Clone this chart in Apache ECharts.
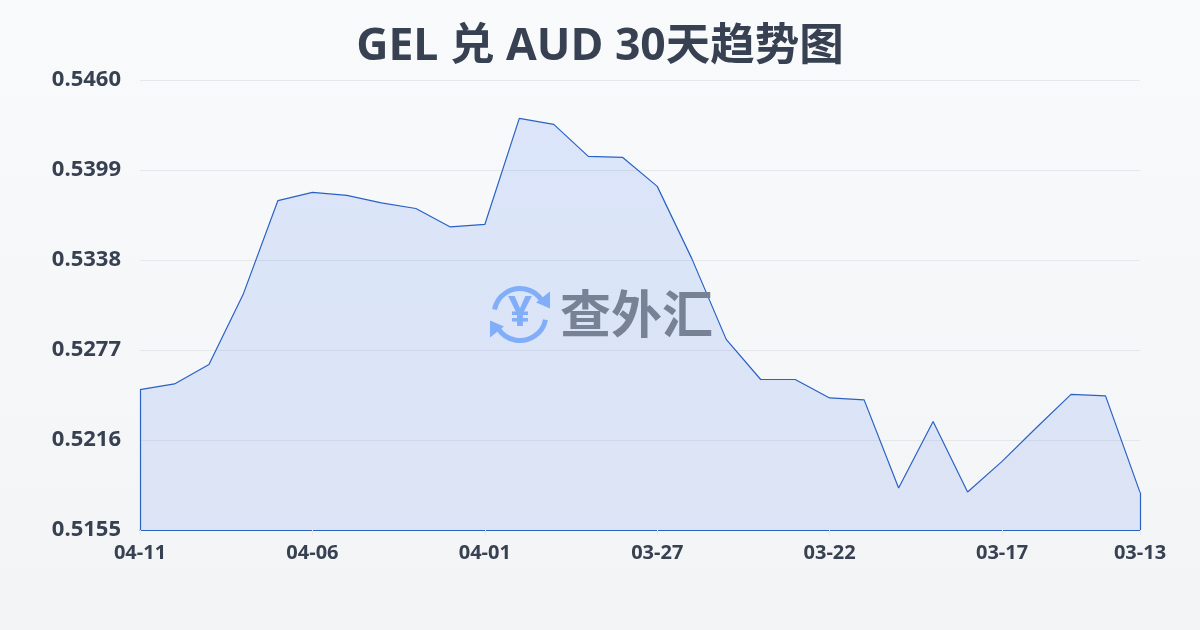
<!DOCTYPE html>
<html><head><meta charset="utf-8">
<style>html,body{margin:0;padding:0;width:1200px;height:630px;overflow:hidden}#c{width:1200px;height:630px}</style>
<script src="https://cdn.jsdelivr.net/npm/echarts@6/dist/echarts.min.js"></script>
</head><body><div id="c"></div>
<script>
const titleText = 'GEL 兑 AUD 30天趋势图';
const dates = ['04-11','04-10','04-09','04-08','04-07','04-06','04-05','04-04','04-03','04-02','04-01','03-31','03-30','03-29','03-28','03-27','03-26','03-25','03-24','03-23','03-22','03-21','03-20','03-19','03-18','03-17','03-16','03-15','03-14','03-13'];
const rates = [0.52502,0.52540,0.52672,0.53152,0.53783,0.53838,0.53818,0.53767,0.53729,0.53604,0.53621,0.54340,0.54299,0.54082,0.54075,0.53879,0.53391,0.52842,0.52570,0.52570,0.52445,0.52432,0.51835,0.52286,0.51808,0.52015,0.52245,0.52469,0.52459,0.51805];
const yMin = 0.5155, yMax = 0.5460;
const font = '"Open Sans","Noto Sans CJK SC",sans-serif';
const blue = '#2a62c4';
const iconBlue = '#8fb8fb';
const last = dates.length - 1;
const chart = echarts.init(document.getElementById('c'), null, {renderer:'canvas'});
chart.setOption({
  animation:false,
  backgroundColor:new echarts.graphic.LinearGradient(0,0,0,1,[{offset:0,color:'#f8fafc'},{offset:1,color:'#f3f4f6'}]),
  title:{text:titleText,left:'center',top:20,textStyle:{fontFamily:font,fontSize:44.5,fontWeight:'bold',color:'#374151'}},
  grid:{left:140,right:60,top:80,bottom:100},
  xAxis:{type:'category',boundaryGap:false,data:dates,
    axisLine:{show:true,lineStyle:{color:blue,width:1}},
    axisTick:{show:true,length:5,alignWithLabel:true,lineStyle:{color:'#e5e7eb'},interval:i=>i%5===0||i===last},
    axisLabel:{interval:i=>i%5===0||i===last,showMaxLabel:true,margin:13,fontFamily:font,fontSize:20,fontWeight:'bold',color:'#374151'},
    splitLine:{show:false}},
  yAxis:{type:'value',min:yMin,max:yMax,interval:(yMax-yMin)/5,
    axisLine:{show:false},axisTick:{show:false},
    axisLabel:{margin:19,fontFamily:font,fontSize:22,fontWeight:'bold',color:'#374151',formatter:v=>v.toFixed(4)},
    splitLine:{lineStyle:{color:'#e5e7eb',width:1}}},
  series:[{type:'line',data:rates,symbol:'none',smooth:false,z:3,
    lineStyle:{color:blue,width:1.2},
    areaStyle:{color:new echarts.graphic.LinearGradient(0,0,0,1,[{offset:0,color:'rgba(37,99,235,0.19)'},{offset:1,color:'rgba(37,99,235,0.17)'}])},
    markLine:{silent:true,symbol:'none',label:{show:false},lineStyle:{color:blue,width:1.2,type:'solid'},animation:false,
      data:[
        [{coord:[dates[0],yMin]},{coord:[dates[0],rates[0]]}],
        [{coord:[dates[last],yMin]},{coord:[dates[last],rates[last]]}]
      ]}
  }],
  graphic:[
    {type:'group',left:490,top:286,z:10,silent:true,children:[
      {type:'arc',shape:{cx:31,cy:30,r:26,startAngle:-2.95,endAngle:-0.55},style:{stroke:iconBlue,lineWidth:5,fill:null}},
      {type:'arc',shape:{cx:31,cy:30,r:26,startAngle:0.2,endAngle:2.6},style:{stroke:iconBlue,lineWidth:5,fill:null}},
      {type:'polygon',shape:{points:[[61,7],[61,24],[47,18]]},style:{fill:iconBlue}},
      {type:'polygon',shape:{points:[[1,53],[1,36],[15,42]]},style:{fill:iconBlue}},
      {type:'text',style:{x:31,y:30,text:'¥',align:'center',verticalAlign:'middle',fontFamily:font,fontSize:42,fontWeight:'bold',fill:iconBlue}}
    ]},
    {type:'text',left:560,top:288,z:10,silent:true,style:{text:'查外汇',fontFamily:'"Noto Sans CJK SC",sans-serif',fontSize:51,fontWeight:'bold',fill:'#788296'}}
  ]
});
</script></body></html>
